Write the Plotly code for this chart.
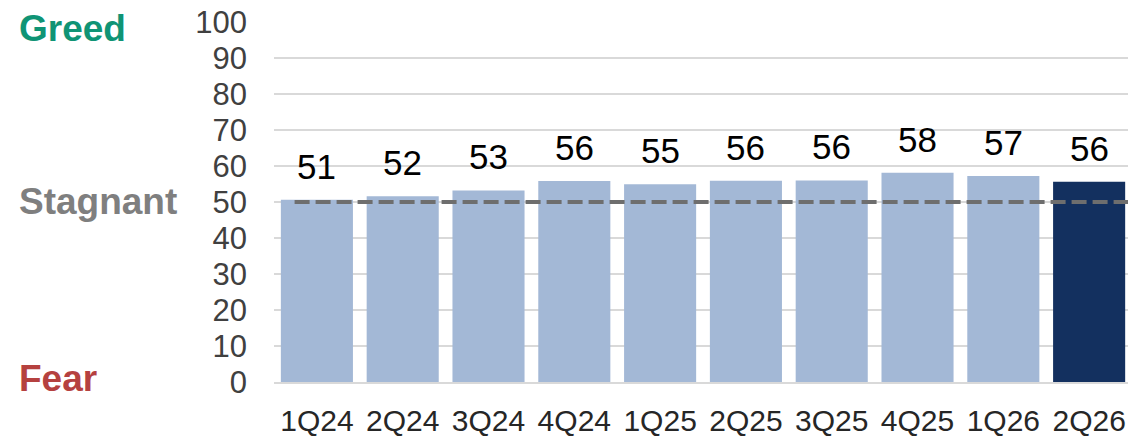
import plotly.graph_objects as go

# Quarterly sentiment index readings
quarters = ["1Q24", "2Q24", "3Q24", "4Q24", "1Q25", "2Q25", "3Q25", "4Q25", "1Q26", "2Q26"]
index_values = [50.6, 51.6, 53.2, 55.8, 54.9, 55.9, 56.0, 58.1, 57.2, 55.6]
neutral_level = 50
y_ticks = [0, 10, 20, 30, 40, 50, 60, 70, 80, 90, 100]
zone_labels = ["Greed", "Stagnant", "Fear"]
zone_levels = [98.3, 50.2, 1.0]

FONT = "Liberation Sans, Arial, sans-serif"
LIGHT = "#A3B8D6"
DARK = "#13305F"
zone_colors = ["#0F9475", "#7F7F7F", "#B5413F"]

bar_colors = [LIGHT] * (len(quarters) - 1) + [DARK]

fig = go.Figure()
fig.add_trace(go.Bar(
    x=list(range(len(quarters))),
    y=index_values,
    marker=dict(color=bar_colors, line=dict(width=0)),
    hoverinfo="skip",
))

# Value labels above each bar
for i, v in enumerate(index_values):
    fig.add_annotation(
        x=i, y=v, xref="x", yref="y",
        text=f"{v:.0f}", showarrow=False,
        yanchor="bottom", yshift=12,
        font=dict(family=FONT, size=35, color="#000000"),
    )

# Neutral reference line
fig.add_shape(
    type="line", xref="x", yref="y",
    x0=-0.26, x1=9.453, y0=neutral_level, y1=neutral_level,
    line=dict(color="#6E6E6E", width=4, dash="15px,6px"),
    layer="above",
)

# Zone captions along the left side
for name, lvl, col in zip(zone_labels, zone_levels, zone_colors):
    fig.add_annotation(
        x=-0.301, y=lvl, xref="paper", yref="y",
        text=f"<b>{name}</b>", showarrow=False,
        xanchor="left", yanchor="middle",
        font=dict(family=FONT, size=37, color=col),
    )

fig.update_layout(
    width=1128, height=436,
    margin=dict(l=274, r=0, t=22, b=54, autoexpand=False),
    paper_bgcolor="white", plot_bgcolor="white",
    bargap=0.16, showlegend=False,
    font=dict(family=FONT),
)
fig.update_xaxes(
    range=[-0.5, 9.453], automargin=False,
    tickmode="array", tickvals=list(range(len(quarters))), ticktext=quarters,
    tickfont=dict(family=FONT, size=30, color="#262626"),
    showgrid=False, zeroline=False,
    showline=True, linecolor="#D9D9D9", linewidth=1.5,
    ticks="", ticklabelstandoff=11,
)
fig.update_yaxes(
    range=[0, 100], automargin=False,
    tickmode="array", tickvals=y_ticks,
    tickfont=dict(family=FONT, size=31, color="#404040"),
    showgrid=True, gridcolor="#D9D9D9", gridwidth=1.5,
    zeroline=False, showline=False, ticks="",
    ticklabelstandoff=26,
)

fig.write_html("out.html")
